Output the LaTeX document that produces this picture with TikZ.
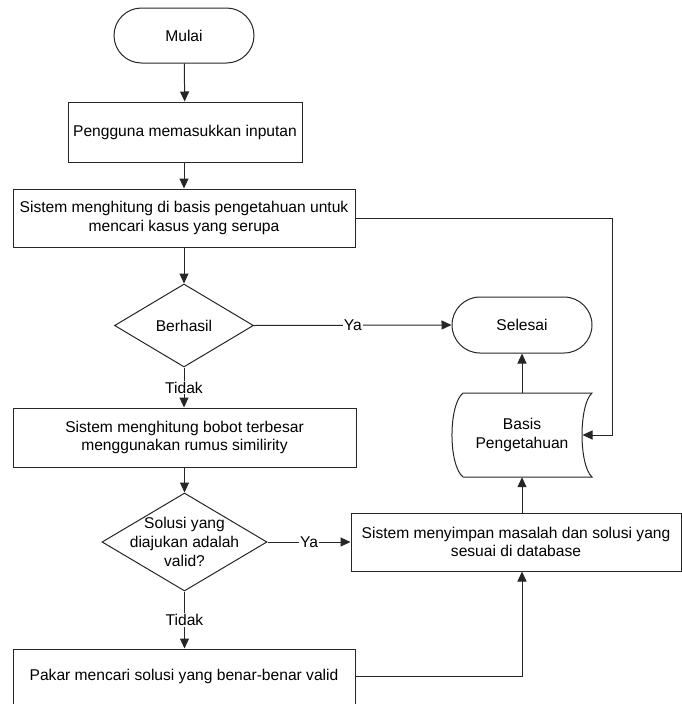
\documentclass[tikz,border=0pt]{standalone}
\usepackage{fontspec}
\setmainfont{Liberation Sans}
\usetikzlibrary{shapes.geometric,arrows.meta}
\begin{document}
\begin{tikzpicture}[x=1pt,y=-1pt,
  every node/.style={font=\fontsize{15.6}{18.8}\selectfont, text=black},
  ln/.style={draw=black!85, line width=1pt},
  box/.style={ln, rectangle, inner sep=0pt, align=center},
  term/.style={ln, rectangle, rounded corners=27.5pt, inner sep=0pt, minimum width=140pt, minimum height=55pt},
  dia/.style={ln, diamond, inner sep=0pt},
  arr/.style={ln, -{Triangle[length=10pt,width=9pt]}},
  lab/.style={fill=white, inner sep=1pt}
]
\useasboundingbox (0,0) rectangle (682,704);

% nodes
\node[term] (mulai) at (184,35.5) {Mulai};
\node[box, minimum width=234pt, minimum height=60pt] (b1) at (185,132) {Pengguna memasukkan inputan};
\node[box, minimum width=342pt, minimum height=58pt] (b2) at (184,218) {Sistem menghitung di basis pengetahuan untuk\\mencari kasus yang serupa};
\node[dia, minimum width=139pt, minimum height=83pt] (d1) at (184,325.5) {};
\node (d1t) at (d1) {Berhasil};
\node[term, rounded corners=28pt, minimum height=56pt] (selesai) at (522,325) {Selesai};
\node[box, minimum width=343pt, minimum height=59pt] (b3) at (184.5,437.5) {Sistem menghitung bobot terbesar\\menggunakan rumus similirity};
\node[dia, minimum width=165pt, minimum height=98pt] (d2) at (184.5,542) {};
\node[align=center, inner sep=0pt] (d2t) at (d2) {Solusi yang\\diajukan adalah\\valid?};
\node[box, minimum width=330pt, minimum height=58pt] (b5) at (516,542) {Sistem menyimpan masalah dan solusi yang\\sesuai di database};
\node[box, minimum width=342pt, minimum height=55pt] (b4) at (184,676.5) {Pakar mencari solusi yang benar-benar valid};

% stored data shape
\node[inner sep=0pt, minimum width=120pt, minimum height=84pt, align=center] (basis) at (522,435) {Basis\\Pengetahuan};
\draw[ln] (463,393) -- (592,393)
  .. controls (578.7,405) and (578.7,465) .. (592,477)
  -- (463,477)
  .. controls (448.3,465) and (448.3,405) .. (463,393) -- cycle;
\coordinate (bin) at (582.5,435);
\coordinate (rt) at (612,218);

% connectors
\draw[arr] (mulai) -- (b1);
\draw[arr] (b1.south -| b2.north) -- (b2.north);
\draw[arr] (b2) -- (d1);
\draw[arr] (b2.east) -- (rt) |- (bin);
\draw[arr] (d1.east) -- node[lab] (ya1) {Ya} (selesai.west);
\draw[arr] (d1.south) -- node[lab] (t1) {Tidak} (b3.north -| d1.south);
\draw[arr] (b3.south -| d2.north) -- (d2.north);
\draw[arr] (d2.east) -- node[lab] (ya2) {Ya} (b5.west);
\draw[arr] (d2.south) -- node[lab] (t2) {Tidak} (b4.north -| d2.south);
\draw[arr] (b4.east) -| (b5.south -| basis.south);
\draw[arr] (b5.north -| basis.south) -- (basis.south);
\draw[arr] (basis.north) -- (selesai.south);
\end{tikzpicture}
\end{document}
